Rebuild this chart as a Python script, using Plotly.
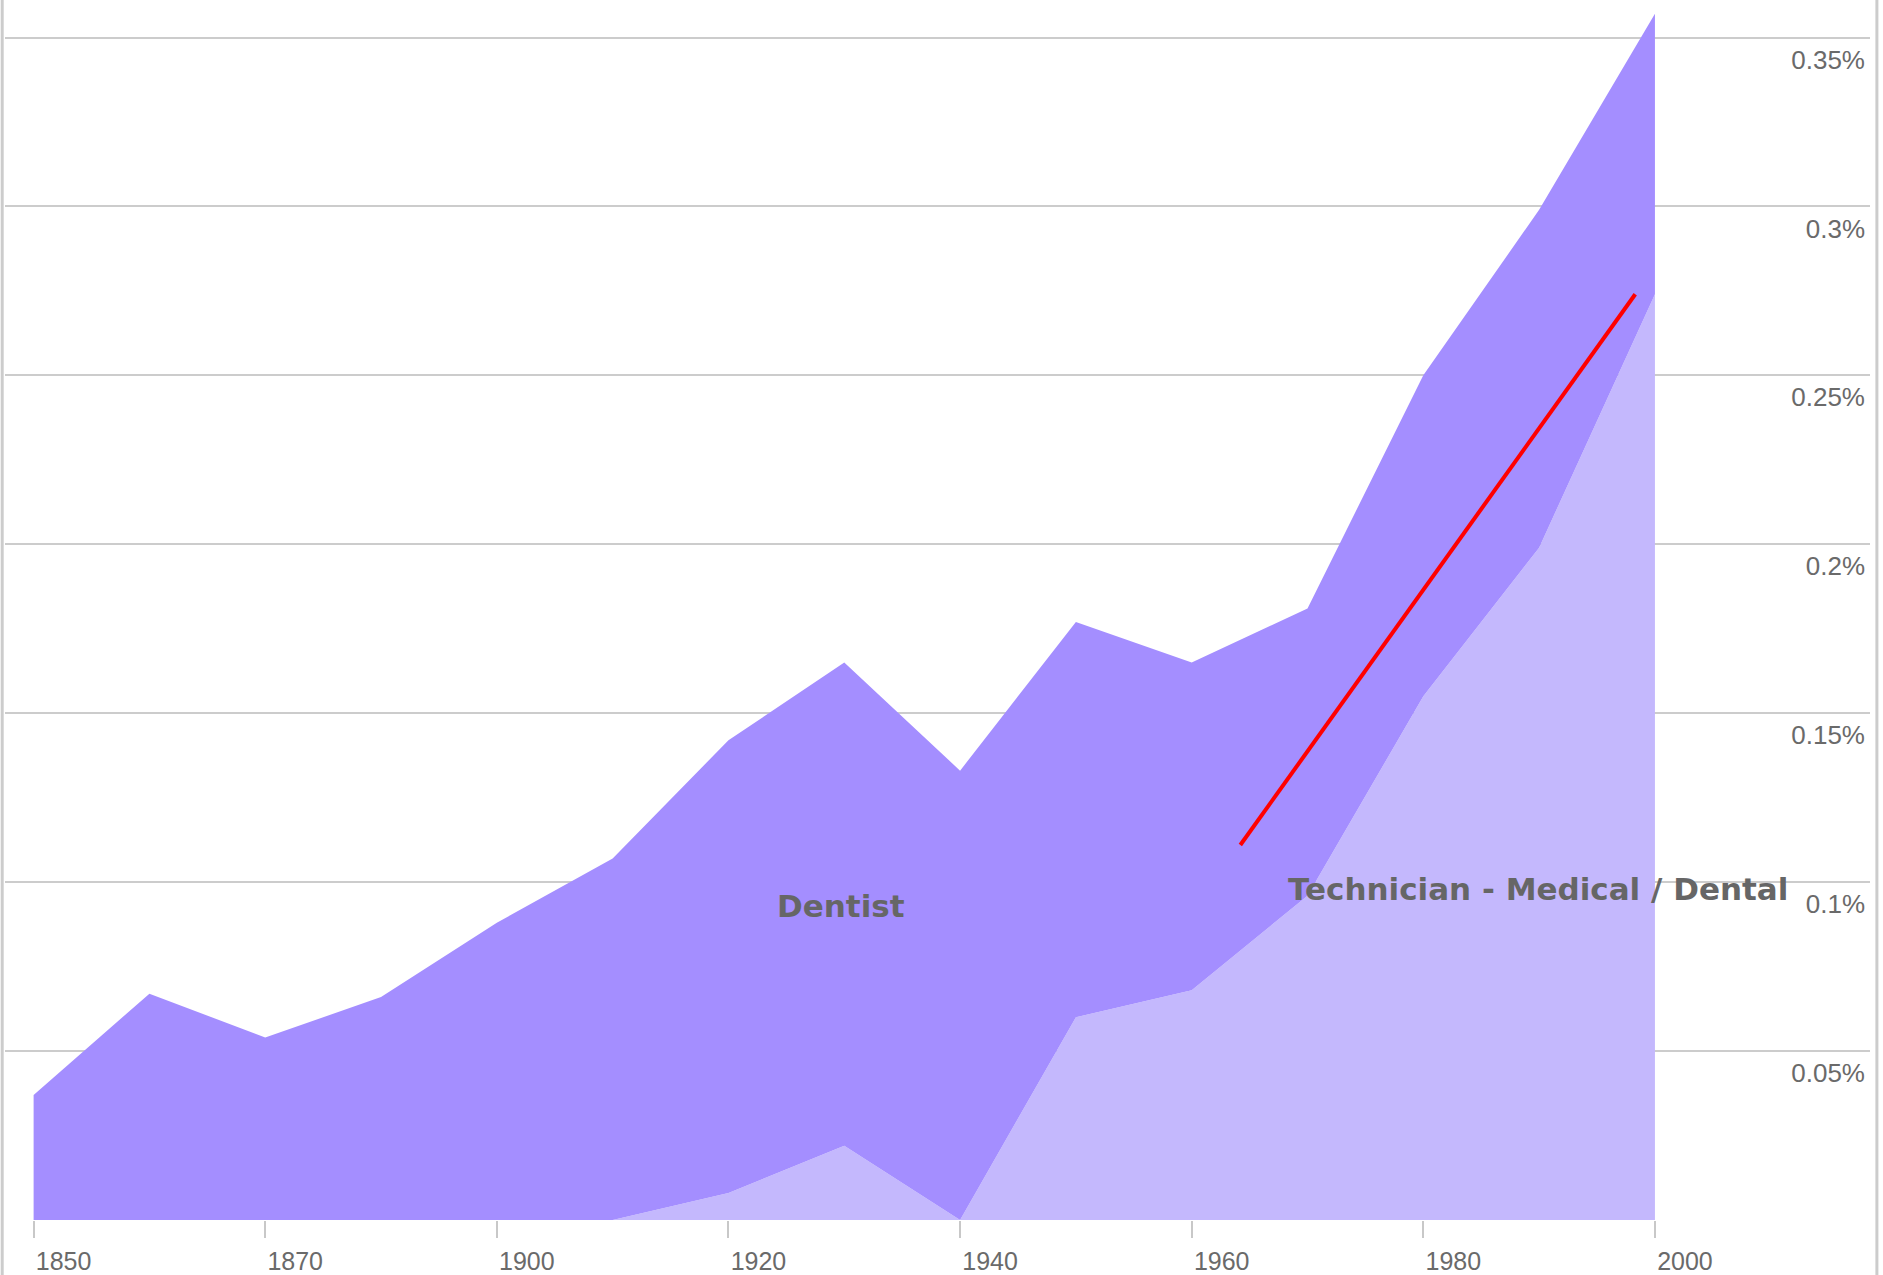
import plotly.graph_objects as go

# Census years (1890 missing) – plotted at evenly spaced positions
years = [1850, 1860, 1870, 1880, 1900, 1910, 1920, 1930, 1940, 1950, 1960, 1970, 1980, 1990, 2000]
# share of labor force, in percent
technician = [0, 0, 0, 0, 0, 0, 0.008, 0.022, 0, 0.060, 0.068, 0.096, 0.155, 0.199, 0.274]
total_top = [0.037, 0.067, 0.054, 0.066, 0.088, 0.107, 0.142, 0.165, 0.133, 0.177, 0.165, 0.181, 0.250, 0.299, 0.357]
dentist = [round(t - s, 4) for t, s in zip(total_top, technician)]

tick_years = [1850, 1870, 1900, 1920, 1940, 1960, 1980, 2000]
y_ticks = [0.05, 0.1, 0.15, 0.2, 0.25, 0.3, 0.35]
y_tick_text = ["0.05%", "0.1%", "0.15%", "0.2%", "0.25%", "0.3%", "0.35%"]

# red trend line (position index, percent)
trend_x = [10.42, 13.83]
trend_y = [0.111, 0.274]

labels = ["Dentist", "Technician - Medical / Dental"]
label_x = [6.97, 12.99]
label_y = [0.093, 0.098]

xi = list(range(len(years)))
tick_idx = [years.index(y) for y in tick_years]

fig = go.Figure()
fig.add_trace(go.Scatter(x=xi, y=technician, stackgroup="one", mode="none",
                         fillcolor="#c4b8fd", name="Technician - Medical / Dental"))
fig.add_trace(go.Scatter(x=xi, y=dentist, stackgroup="one", mode="none",
                         fillcolor="#a48eff", name="Dentist"))
fig.add_trace(go.Scatter(x=trend_x, y=trend_y, mode="lines",
                         line=dict(color="#ff0000", width=4), name="trend"))

for t, x, y in zip(labels, label_x, label_y):
    fig.add_annotation(x=x, y=y, text="<b>" + t + "</b>", showarrow=False,
                       font=dict(family="DejaVu Sans", size=31, color="#666666"),
                       xanchor="center", yanchor="middle")

fig.update_layout(
    width=1883, height=1275,
    margin=dict(l=5, r=13, t=0, b=55),
    paper_bgcolor="white", plot_bgcolor="white",
    showlegend=False, hovermode=False,
    xaxis=dict(range=[-0.247, 15.857], tickmode="array", tickvals=tick_idx,
               ticktext=[str(y) for y in tick_years], showgrid=False, zeroline=False,
               showline=False, ticks="outside", ticklen=17, tickwidth=2, tickcolor="#c8c8c8",
               tickfont=dict(family="Liberation Sans, Arial", size=25, color="#6a6a6a"),
               ticklabelshift=30, ticklabelstandoff=2),
    yaxis=dict(range=[0, 0.3611], tickmode="array", tickvals=[0] + y_ticks,
               ticktext=[""] + y_tick_text, side="right", ticklabelposition="inside",
               showgrid=True, gridcolor="#cccccc", gridwidth=2, zeroline=False,
               showline=False, ticks="",
               tickfont=dict(family="Liberation Sans, Arial", size=26, color="#6a6a6a"),
               ticklabelshift=22, ticklabelstandoff=2),
)

# frame lines at left and right edges
fig.add_shape(type="line", xref="paper", yref="paper", x0=-0.0015, x1=-0.0015, y0=-0.05, y1=1.0,
              line=dict(color="#cccccc", width=3))
fig.add_shape(type="line", xref="paper", yref="paper", x0=1.0037, x1=1.0037, y0=-0.05, y1=1.0,
              line=dict(color="#cccccc", width=3))

fig.write_html("out.html", config={"displayModeBar": False},
               post_script="document.body.style.margin='0px';document.body.style.overflow='hidden';")
